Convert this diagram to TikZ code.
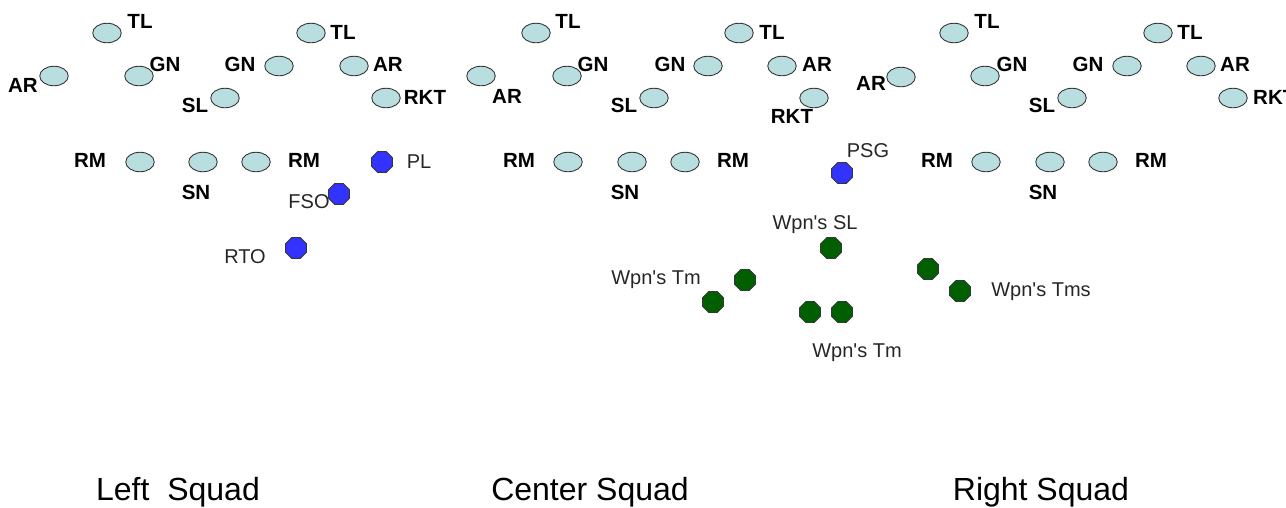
\documentclass[tikz,border=0pt]{standalone}
\usepackage{fontspec}
\setmainfont{Liberation Sans}
\usetikzlibrary{shapes.geometric}
\definecolor{soldier}{RGB}{185,222,224}
\definecolor{edge}{RGB}{55,55,55}
\definecolor{hqblue}{RGB}{51,51,255}
\definecolor{wpngreen}{RGB}{0,96,0}
\newcommand{\apos}{\textquotesingle}
\begin{document}
\begin{tikzpicture}[x=1pt,y=-1pt,
  man/.style={ellipse, draw=edge, fill=soldier, line width=0.9pt, minimum width=28.5pt, minimum height=19.5pt, inner sep=0pt},
  hq/.style={regular polygon, regular polygon sides=8, draw=edge, fill=hqblue, line width=0.8pt, minimum size=22.5pt, inner sep=0pt},
  wpn/.style={hq, fill=wpngreen},
  rank/.style={font=\fontsize{20.5}{20.5}\selectfont\bfseries, inner sep=0pt, text height=14.6pt, text depth=0pt},
  note/.style={font=\fontsize{20}{20}\selectfont, inner sep=0pt, text height=14.3pt, text depth=0pt, text=black!85},
  squad/.style={font=\fontsize{32}{32}\selectfont, inner sep=0pt, text height=23pt, text depth=0pt}]
\useasboundingbox (0,0) rectangle (1286,507);
% ---------- Left squad ----------
\node[man] (lTL1) at (107,33) {};  \node[rank] (lTL1t) at (140,21) {TL};
\node[man] (lAR1) at (54,76) {};   \node[rank] (lAR1t) at (23,85) {AR};
\node[man] (lGN1) at (139,76) {};  \node[rank] (lGN1t) at (165,64) {GN};
\node[man] (lSL) at (225,98) {};   \node[rank] (lSLt) at (195,105) {SL};
\node[man] (lGN2) at (279,66) {};  \node[rank] (lGN2t) at (240,64) {GN};
\node[man] (lTL2) at (311,33) {};  \node[rank] (lTL2t) at (343,32) {TL};
\node[man] (lAR2) at (354,66) {};  \node[rank] (lAR2t) at (388,64) {AR};
\node[man] (lRKT) at (386,98) {};  \node[rank] (lRKTt) at (425,97) {RKT};
\node[rank] (lRM1t) at (90,160) {RM};
\node[man] (lRM1) at (140,162) {};
\node[man] (lSN) at (203,162) {};  \node[rank] (lSNt) at (196,192) {SN};
\node[man] (lRM2) at (256,162) {}; \node[rank] (lRM2t) at (304,160) {RM};
\node[hq] (PL) at (382,162) {};    \node[note] (PLt) at (419,161) {PL};
\node[note] (FSOt) at (309,201) {FSO};
\node[hq] (FSO) at (339,194) {};
\node[hq] (RTO) at (296,248) {};   \node[note] (RTOt) at (245,256) {RTO};
% ---------- Center squad ----------
\node[man] (cAR1) at (481,76) {};  \node[rank] (cAR1t) at (507,96) {AR};
\node[man] (cTL1) at (536,33) {};  \node[rank] (cTL1t) at (568,21) {TL};
\node[man] (cGN1) at (567,76) {};  \node[rank] (cGN1t) at (593,64) {GN};
\node[man] (cSL) at (654,98) {};   \node[rank] (cSLt) at (624,105) {SL};
\node[man] (cGN2) at (708,66) {};  \node[rank] (cGN2t) at (670,64) {GN};
\node[man] (cTL2) at (739,33) {};  \node[rank] (cTL2t) at (772,32) {TL};
\node[man] (cAR2) at (782,66) {};  \node[rank] (cAR2t) at (817,64) {AR};
\node[man] (cRKT) at (814,98) {};  \node[rank] (cRKTt) at (792,116) {RKT};
\node[rank] (cRM1t) at (519,160) {RM};
\node[man] (cRM1) at (568,162) {};
\node[man] (cSN) at (632,162) {};  \node[rank] (cSNt) at (625,192) {SN};
\node[man] (cRM2) at (685,162) {}; \node[rank] (cRM2t) at (733,160) {RM};
\node[hq] (PSG) at (842,173) {};   \node[note] (PSGt) at (868,150) {PSG};
% ---------- Weapons squad ----------
\node[note] (WSLt) at (815,222) {Wpn\apos s SL};
\node[wpn] (WSL) at (831,248) {};
\node[note] (WT1t) at (656,277) {Wpn\apos s Tm};
\node[wpn] (WT1a) at (745,280) {};
\node[wpn] (WT1b) at (713,302) {};
\node[wpn] (WT2a) at (810,312) {};
\node[wpn] (WT2b) at (842,312) {};
\node[note] (WT2t) at (857,350) {Wpn\apos s Tm};
\node[wpn] (WT3a) at (928,269) {};
\node[wpn] (WT3b) at (960,291) {};
\node[note] (WT3t) at (1041,289) {Wpn\apos s Tms};
% ---------- Right squad ----------
\node[man] (rAR1) at (901,77) {};  \node[rank] (rAR1t) at (871,83) {AR};
\node[man] (rTL1) at (954,33) {};  \node[rank] (rTL1t) at (987,21) {TL};
\node[man] (rGN1) at (985,76) {};  \node[rank] (rGN1t) at (1012,64) {GN};
\node[man] (rSL) at (1072,98) {};  \node[rank] (rSLt) at (1042,105) {SL};
\node[man] (rGN2) at (1127,66) {}; \node[rank] (rGN2t) at (1088,64) {GN};
\node[man] (rTL2) at (1158,33) {}; \node[rank] (rTL2t) at (1190,32) {TL};
\node[man] (rAR2) at (1201,66) {}; \node[rank] (rAR2t) at (1235,64) {AR};
\node[man] (rRKT) at (1233,98) {}; \node[rank, anchor=west] (rRKTt) at (1253,97) {RKT};
\node[rank] (rRM1t) at (937,160) {RM};
\node[man] (rRM1) at (986,162) {};
\node[man] (rSN) at (1050,162) {}; \node[rank] (rSNt) at (1043,192) {SN};
\node[man] (rRM2) at (1103,162) {}; \node[rank] (rRM2t) at (1151,160) {RM};
% ---------- Squad titles ----------
\node[squad] (leftT) at (178,489) {Left\ \ Squad};
\node[squad] (centerT) at (590,489) {Center Squad};
\node[squad] (rightT) at (1041,489) {Right Squad};
\end{tikzpicture}
\end{document}
